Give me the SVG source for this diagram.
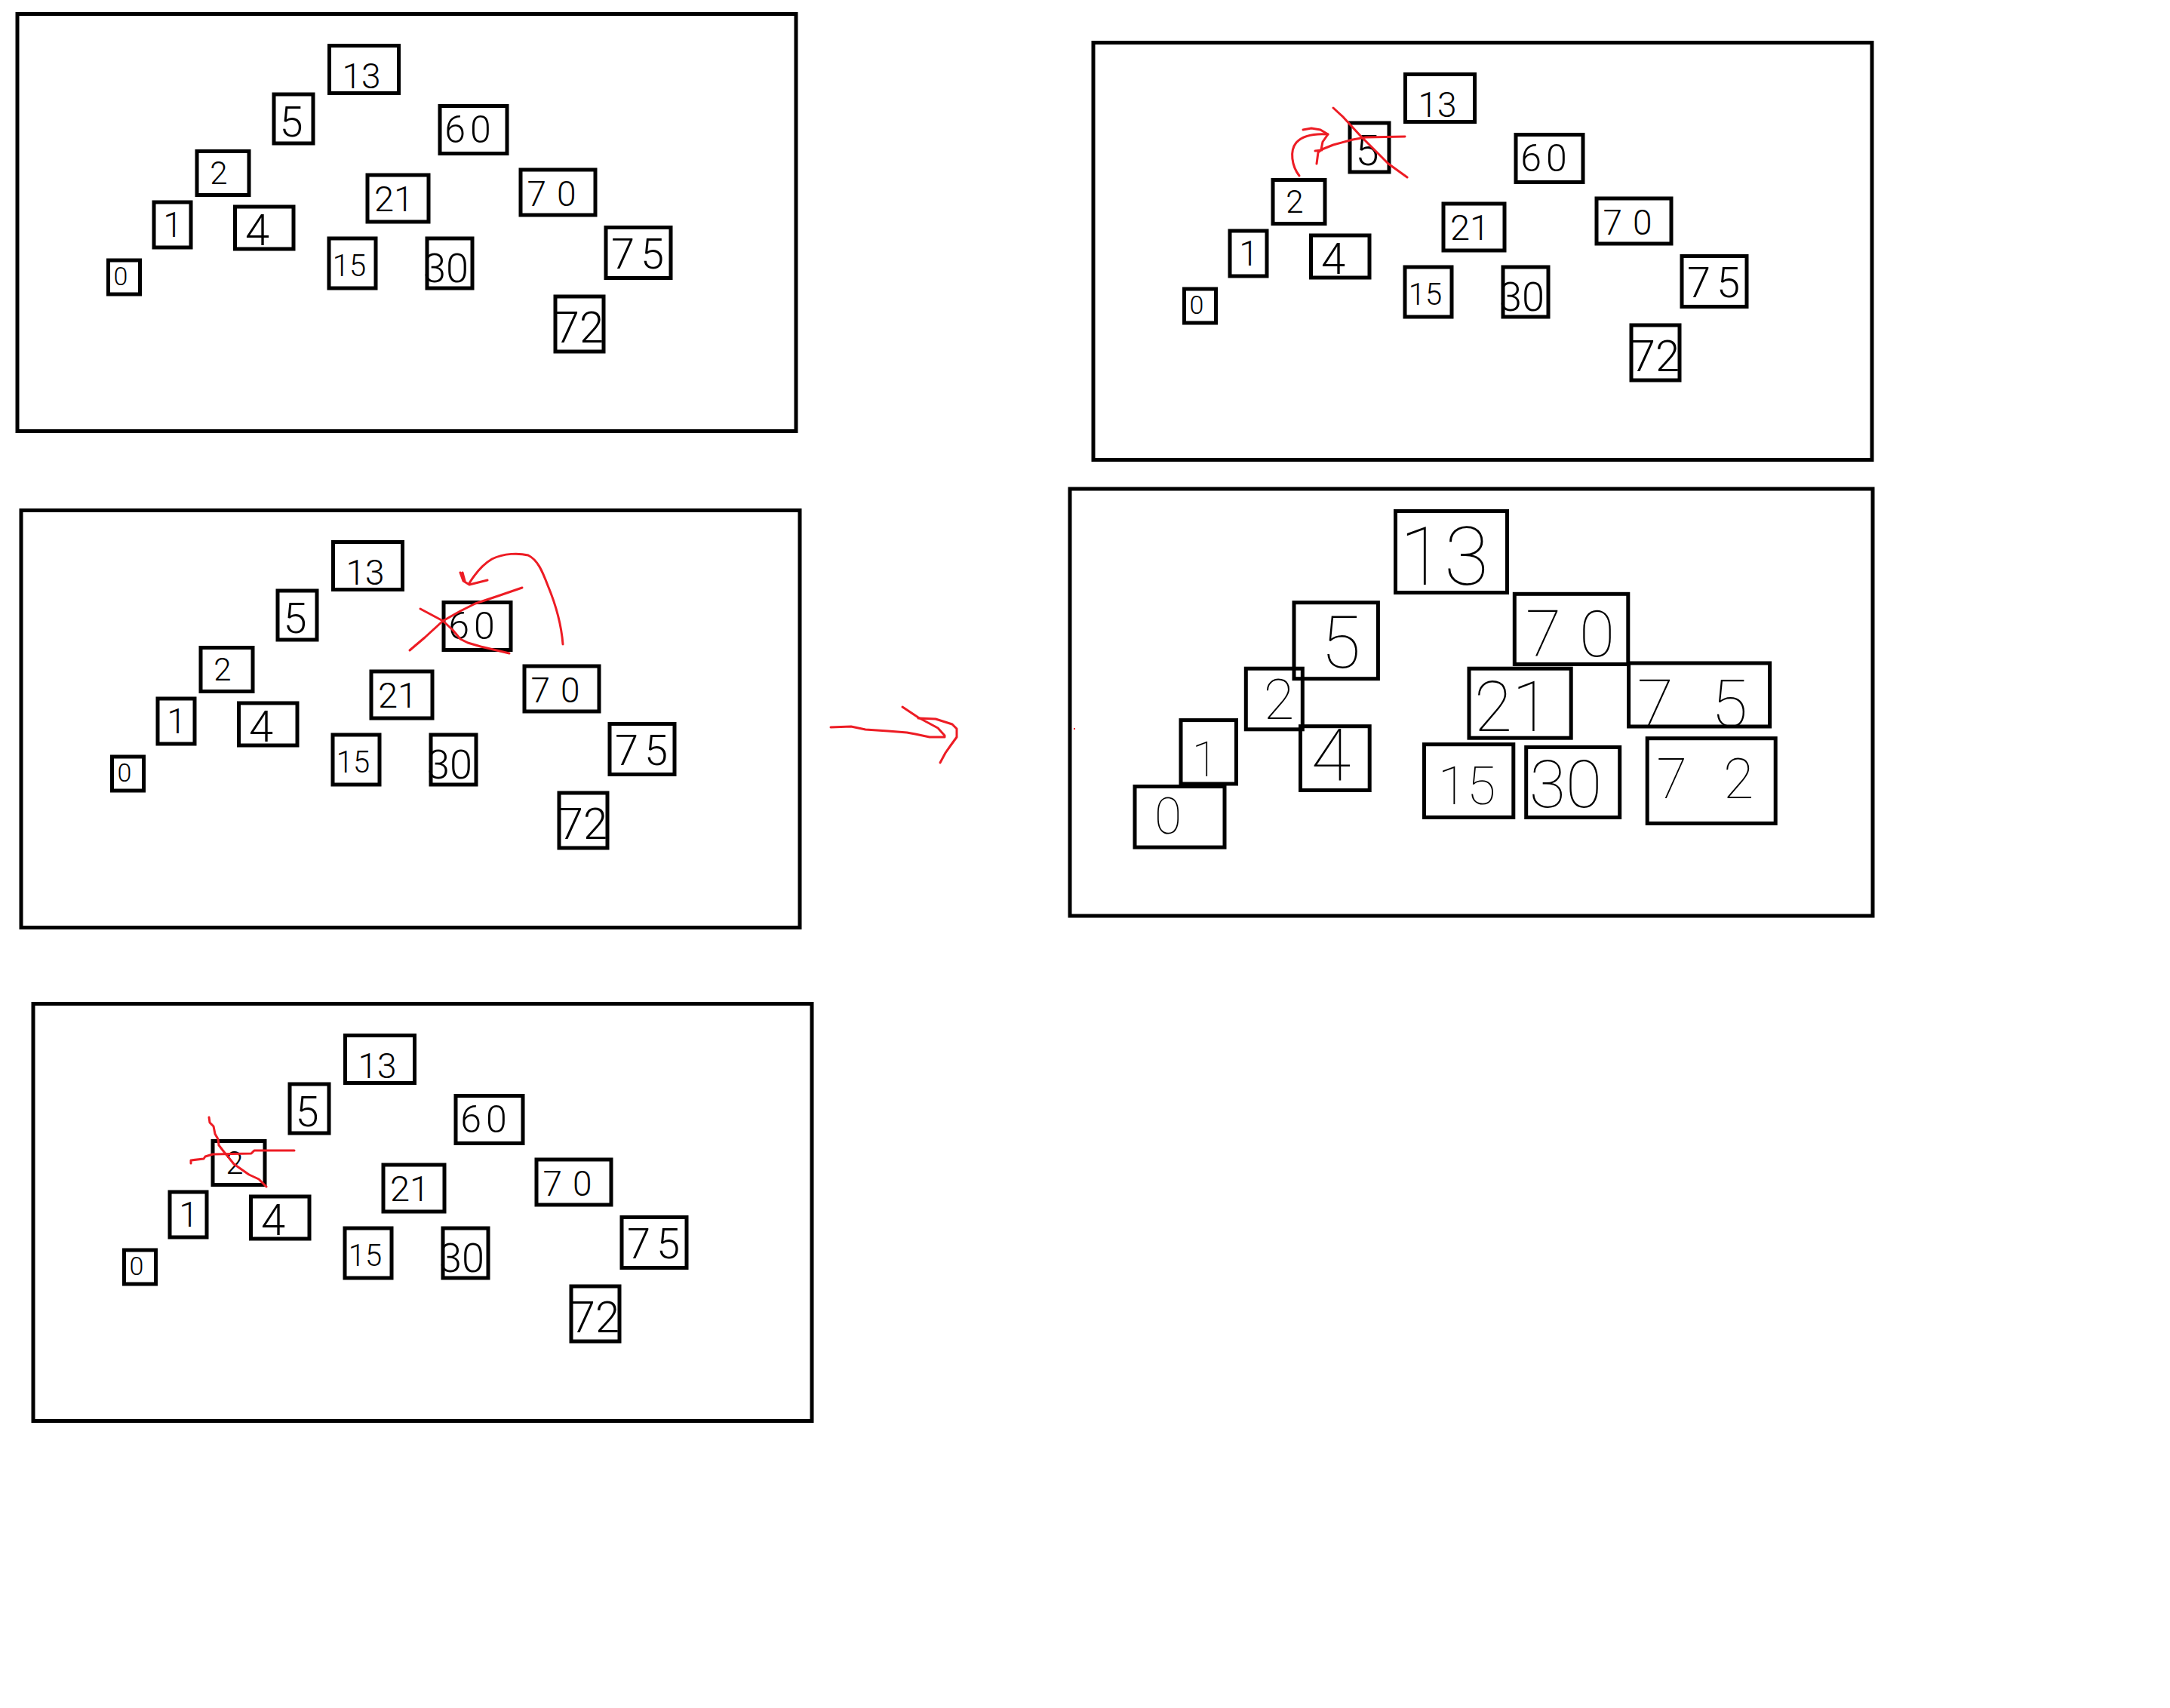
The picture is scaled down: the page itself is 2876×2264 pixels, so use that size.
<svg xmlns="http://www.w3.org/2000/svg" width="2876" height="2264" viewBox="0 0 2876 2264">
<style>
.bg{fill:#fff}
.panel{fill:none;stroke:#000;stroke-width:5}
.box{fill:none;stroke:#000;stroke-width:5}
.lbl{font-family:"Roboto","Liberation Sans","DejaVu Sans",sans-serif;font-weight:300;fill:#000;text-anchor:middle}
.big{font-family:"Roboto","Inter","Liberation Sans",sans-serif;font-weight:100;fill:#000;text-anchor:middle}
.red{fill:none;stroke:#ed1c24;stroke-width:3;stroke-linecap:round;stroke-linejoin:round}
</style>
<rect class="bg" x="0" y="0" width="2876" height="2264"/>

<!-- Panel 1 -->
<g id="panel1">
<rect class="panel" x="23" y="18.5" width="1032" height="553"/>
<g id="p1-n13"><rect class="box" x="436.5" y="60.5" width="92" height="63"/><text class="lbl" x="479" y="117" font-size="46">13</text></g>
<g id="p1-n5"><rect class="box" x="363" y="125" width="52" height="65"/><text class="lbl" x="386" y="181" font-size="56">5</text></g>
<g id="p1-n60"><rect class="box" x="583" y="140.5" width="89" height="63"/><text class="lbl" x="623" y="189" font-size="50" letter-spacing="6">60</text></g>
<g id="p1-n2"><rect class="box" x="261" y="200.5" width="69" height="58"/><text class="lbl" x="290" y="244" font-size="42">2</text></g>
<g id="p1-n21"><rect class="box" x="487" y="232" width="81" height="62"/><text class="lbl" x="522" y="280" font-size="47">21</text></g>
<g id="p1-n70"><rect class="box" x="690" y="225" width="99" height="60"/><text class="lbl" x="738" y="273" font-size="46" letter-spacing="14">70</text></g>
<g id="p1-n1"><rect class="box" x="204" y="268" width="49" height="60"/><text class="lbl" x="229" y="314" font-size="46">1</text></g>
<g id="p1-n4"><rect class="box" x="311.5" y="274" width="77.5" height="56"/><text class="lbl" x="341" y="325" font-size="58">4</text></g>
<g id="p1-n15"><rect class="box" x="436" y="316" width="62" height="66"/><text class="lbl" x="463" y="366" font-size="40">15</text></g>
<g id="p1-n30"><rect class="box" x="566" y="316" width="60" height="66"/><text class="lbl" x="591" y="374" font-size="54">30</text></g>
<g id="p1-n75"><rect class="box" x="803" y="301.5" width="86" height="67"/><text class="lbl" x="849" y="356" font-size="56" letter-spacing="8">75</text></g>
<g id="p1-n0"><rect class="box" x="143.5" y="345" width="42" height="45"/><text class="lbl" x="160" y="378" font-size="34">0</text></g>
<g id="p1-n72"><rect class="box" x="736" y="393" width="64" height="73"/><text class="lbl" x="768" y="454" font-size="58">72</text></g>
</g>

<!-- Panel 2 -->
<g id="panel2" transform="translate(5,658)">
<rect class="panel" x="23" y="18.5" width="1032" height="553"/>
<g id="p2-n13"><rect class="box" x="436.5" y="60.5" width="92" height="63"/><text class="lbl" x="479" y="117" font-size="46">13</text></g>
<g id="p2-n5"><rect class="box" x="363" y="125" width="52" height="65"/><text class="lbl" x="386" y="181" font-size="56">5</text></g>
<g id="p2-n60"><rect class="box" x="583" y="140.5" width="89" height="63"/><text class="lbl" x="623" y="189" font-size="50" letter-spacing="6">60</text></g>
<g id="p2-n2"><rect class="box" x="261" y="200.5" width="69" height="58"/><text class="lbl" x="290" y="244" font-size="42">2</text></g>
<g id="p2-n21"><rect class="box" x="487" y="232" width="81" height="62"/><text class="lbl" x="522" y="280" font-size="47">21</text></g>
<g id="p2-n70"><rect class="box" x="690" y="225" width="99" height="60"/><text class="lbl" x="738" y="273" font-size="46" letter-spacing="14">70</text></g>
<g id="p2-n1"><rect class="box" x="204" y="268" width="49" height="60"/><text class="lbl" x="229" y="314" font-size="46">1</text></g>
<g id="p2-n4"><rect class="box" x="311.5" y="274" width="77.5" height="56"/><text class="lbl" x="341" y="325" font-size="58">4</text></g>
<g id="p2-n15"><rect class="box" x="436" y="316" width="62" height="66"/><text class="lbl" x="463" y="366" font-size="40">15</text></g>
<g id="p2-n30"><rect class="box" x="566" y="316" width="60" height="66"/><text class="lbl" x="591" y="374" font-size="54">30</text></g>
<g id="p2-n75"><rect class="box" x="803" y="301.5" width="86" height="67"/><text class="lbl" x="849" y="356" font-size="56" letter-spacing="8">75</text></g>
<g id="p2-n0"><rect class="box" x="143.5" y="345" width="42" height="45"/><text class="lbl" x="160" y="378" font-size="34">0</text></g>
<g id="p2-n72"><rect class="box" x="736" y="393" width="64" height="73"/><text class="lbl" x="768" y="454" font-size="58">72</text></g>
</g>

<!-- Panel 3 -->
<g id="panel3" transform="translate(21,1312)">
<rect class="panel" x="23" y="18.5" width="1032" height="553"/>
<g id="p3-n13"><rect class="box" x="436.5" y="60.5" width="92" height="63"/><text class="lbl" x="479" y="117" font-size="46">13</text></g>
<g id="p3-n5"><rect class="box" x="363" y="125" width="52" height="65"/><text class="lbl" x="386" y="181" font-size="56">5</text></g>
<g id="p3-n60"><rect class="box" x="583" y="140.5" width="89" height="63"/><text class="lbl" x="623" y="189" font-size="50" letter-spacing="6">60</text></g>
<g id="p3-n2"><rect class="box" x="261" y="200.5" width="69" height="58"/><text class="lbl" x="290" y="244" font-size="42">2</text></g>
<g id="p3-n21"><rect class="box" x="487" y="232" width="81" height="62"/><text class="lbl" x="522" y="280" font-size="47">21</text></g>
<g id="p3-n70"><rect class="box" x="690" y="225" width="99" height="60"/><text class="lbl" x="738" y="273" font-size="46" letter-spacing="14">70</text></g>
<g id="p3-n1"><rect class="box" x="204" y="268" width="49" height="60"/><text class="lbl" x="229" y="314" font-size="46">1</text></g>
<g id="p3-n4"><rect class="box" x="311.5" y="274" width="77.5" height="56"/><text class="lbl" x="341" y="325" font-size="58">4</text></g>
<g id="p3-n15"><rect class="box" x="436" y="316" width="62" height="66"/><text class="lbl" x="463" y="366" font-size="40">15</text></g>
<g id="p3-n30"><rect class="box" x="566" y="316" width="60" height="66"/><text class="lbl" x="591" y="374" font-size="54">30</text></g>
<g id="p3-n75"><rect class="box" x="803" y="301.5" width="86" height="67"/><text class="lbl" x="849" y="356" font-size="56" letter-spacing="8">75</text></g>
<g id="p3-n0"><rect class="box" x="143.5" y="345" width="42" height="45"/><text class="lbl" x="160" y="378" font-size="34">0</text></g>
<g id="p3-n72"><rect class="box" x="736" y="393" width="64" height="73"/><text class="lbl" x="768" y="454" font-size="58">72</text></g>
</g>

<!-- Panel 4 -->
<g id="panel4" transform="translate(1426,38)">
<rect class="panel" x="23" y="18.5" width="1032" height="553"/>
<g id="p4-n13"><rect class="box" x="436.5" y="60.5" width="92" height="63"/><text class="lbl" x="479" y="117" font-size="46">13</text></g>
<g id="p4-n5"><rect class="box" x="363" y="125" width="52" height="65"/><text class="lbl" x="386" y="181" font-size="56">5</text></g>
<g id="p4-n60"><rect class="box" x="583" y="140.5" width="89" height="63"/><text class="lbl" x="623" y="189" font-size="50" letter-spacing="6">60</text></g>
<g id="p4-n2"><rect class="box" x="261" y="200.5" width="69" height="58"/><text class="lbl" x="290" y="244" font-size="42">2</text></g>
<g id="p4-n21"><rect class="box" x="487" y="232" width="81" height="62"/><text class="lbl" x="522" y="280" font-size="47">21</text></g>
<g id="p4-n70"><rect class="box" x="690" y="225" width="99" height="60"/><text class="lbl" x="738" y="273" font-size="46" letter-spacing="14">70</text></g>
<g id="p4-n1"><rect class="box" x="204" y="268" width="49" height="60"/><text class="lbl" x="229" y="314" font-size="46">1</text></g>
<g id="p4-n4"><rect class="box" x="311.5" y="274" width="77.5" height="56"/><text class="lbl" x="341" y="325" font-size="58">4</text></g>
<g id="p4-n15"><rect class="box" x="436" y="316" width="62" height="66"/><text class="lbl" x="463" y="366" font-size="40">15</text></g>
<g id="p4-n30"><rect class="box" x="566" y="316" width="60" height="66"/><text class="lbl" x="591" y="374" font-size="54">30</text></g>
<g id="p4-n75"><rect class="box" x="803" y="301.5" width="86" height="67"/><text class="lbl" x="849" y="356" font-size="56" letter-spacing="8">75</text></g>
<g id="p4-n0"><rect class="box" x="143.5" y="345" width="42" height="45"/><text class="lbl" x="160" y="378" font-size="34">0</text></g>
<g id="p4-n72"><rect class="box" x="736" y="393" width="64" height="73"/><text class="lbl" x="768" y="454" font-size="58">72</text></g>
</g>

<!-- Panel 5 (result) -->
<g id="panel5">
<rect class="panel" x="1418" y="648" width="1064" height="566"/>
<g id="p5-n13"><rect class="box" x="1849.5" y="677.5" width="148" height="108"/><text class="big" x="1914" y="775" font-size="108">13</text></g>
<g id="p5-n5"><rect class="box" x="1715" y="798.7" width="111.4" height="101"/><text class="big" x="1777" y="885" font-size="96">5</text></g>
<g id="p5-n70"><rect class="box" x="2007.3" y="787.3" width="150.5" height="93.2"/><text class="big" x="2093" y="870" font-size="86" letter-spacing="24">70</text></g>
<g id="p5-n2"><rect class="box" x="1651.3" y="886.2" width="75" height="80.6"/><text class="big" x="1695" y="953" font-size="74">2</text></g>
<g id="p5-n21"><rect class="box" x="1947" y="886.2" width="135.2" height="92"/><text class="big" x="2004" y="969" font-size="92">21</text></g>
<g id="p5-n75"><rect class="box" x="2158.6" y="879" width="187" height="84"/><text class="big" x="2268" y="963" font-size="88" letter-spacing="50">75</text></g>
<g id="p5-n1"><rect class="box" x="1565" y="954.6" width="73.5" height="84.4"/><text class="big" x="1597" y="1029" font-size="64">1</text></g>
<g id="p5-n4"><rect class="box" x="1723.5" y="962.7" width="91.7" height="84.8"/><text class="big" x="1764" y="1035" font-size="96">4</text></g>
<g id="p5-n15"><rect class="box" x="1887.5" y="986.7" width="118.3" height="96.7"/><text class="big" x="1944" y="1066" font-size="70">15</text></g>
<g id="p5-n30"><rect class="box" x="2022.7" y="990.5" width="124" height="93"/><text class="big" x="2075" y="1070" font-size="88">30</text></g>
<g id="p5-n72"><rect class="box" x="2183.2" y="978.7" width="170" height="112.7"/><text class="big" x="2284" y="1058" font-size="74" letter-spacing="48">72</text></g>
<g id="p5-n0"><rect class="box" x="1504" y="1042.5" width="119" height="80.6"/><text class="big" x="1548" y="1105" font-size="66">0</text></g>
</g>

<!-- Red annotations -->
<g id="connectors">
<!-- big arrow between stages -->
<path class="red" d="M1101,964 L1128,963 L1147,967 L1177,969 L1202,971 L1213,973 L1232,977 L1252,977 L1252,975 L1243,965 L1217,951 L1196,937"/>
<path class="red" d="M1217,952 L1240,953 L1262,960 L1268,966 L1268,977 L1260,988 L1253,998 L1246,1011"/>
<!-- panel 4: arrow from 2 to 5 -->
<path class="red" d="M1722,233 C1712,220 1709,200 1718,189 C1727,179 1745,177 1760,178"/>
<path class="red" d="M1727,172 L1738,170 L1750,172 L1760,178 L1753,188 L1751,198"/>
<!-- panel 2: arrow from 70 to 60 -->
<path class="red" d="M746,854 C744,828 736,800 726,776 C718,755 712,742 700,736 C688,733 668,733 652,741 C640,748 630,760 622,773"/>
<path class="red" d="M610,759 L614,770 L622,775 L634,772 L646,769 M613,759 L616,770"/>
</g>
<g id="marks">
<!-- panel 4: cross over 5 -->
<path class="red" d="M1767,143 L1780,155 L1803,180 L1820,197 L1840,217 L1865,235"/>
<path class="red" d="M1745,217 L1747,202 L1752,198 L1767,192 L1793,185 L1810,182 L1862,181 M1743,200 L1752,199"/>
<!-- panel 2: cross over 60 -->
<path class="red" d="M543,862 L563,845 L587,823 L610,810 L630,800 L660,790 L692,779"/>
<path class="red" d="M557,807 L587,823 L600,835 L610,847 L620,852 L637,857 L675,866"/>
<!-- panel 3: cross over 2 -->
<path class="red" d="M277,1481 L278,1488 L283,1493 L285,1503 L289,1510 L290,1518 L297,1527 L302,1533 L310,1543 L320,1550 L330,1557 L343,1563 L353,1573"/>
<path class="red" d="M253,1542 L253,1538 L270,1536 L272,1533 L282,1530 L333,1529 L337,1525 L390,1525"/>
<rect x="1423" y="965" width="2" height="2" fill="#ed1c24"/>
</g>
</svg>
